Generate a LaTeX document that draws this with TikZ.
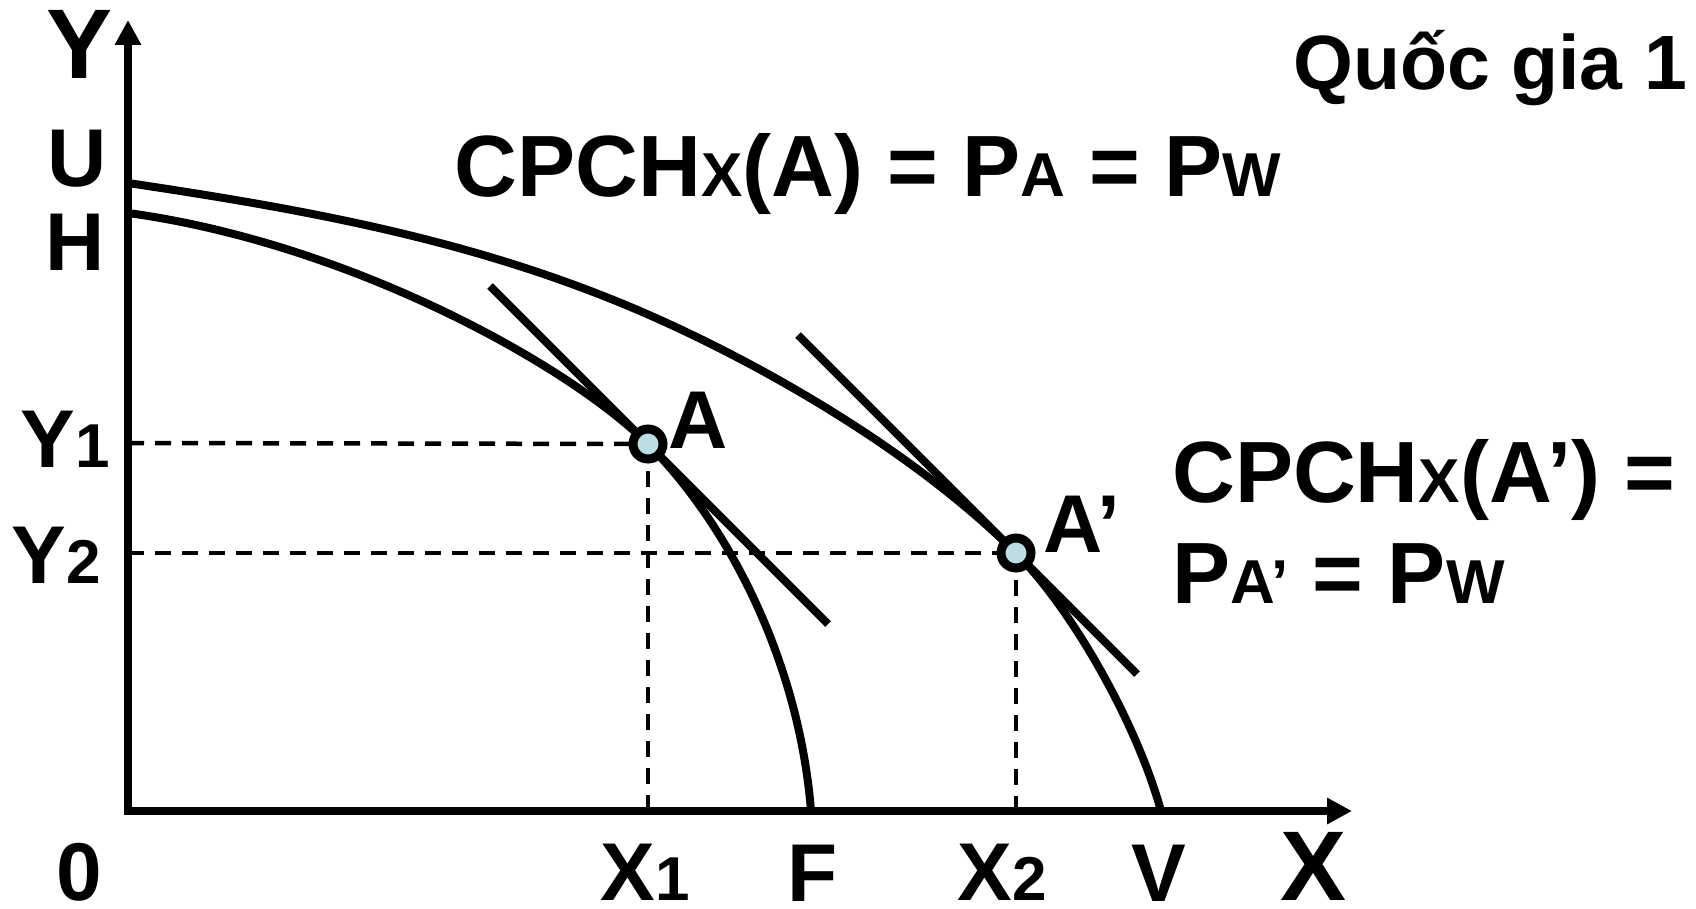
\documentclass[tikz,border=0pt]{standalone}
\usepackage{fontspec}
\setmainfont{Liberation Sans}
\usetikzlibrary{arrows.meta}
\definecolor{ptfill}{RGB}{186,222,227}
\newcommand{\subsz}[1]{{\fontsize{62}{62}\selectfont #1}}
\begin{document}
\begin{tikzpicture}[x=1pt,y=-1pt,
  curve/.style={line width=8pt},
  axisline/.style={line width=8pt, {Triangle[length=25pt,width=25pt]}-{Triangle[length=25pt,width=25pt]}},
  guide/.style={line width=4.5pt, dash pattern=on 16pt off 11pt},
  tangent/.style={line width=8pt},
  pt/.style={circle, draw, line width=9pt, fill=ptfill, minimum size=30pt, inner sep=0pt},
  lbl/.style={inner sep=0pt, anchor=base, font=\fontsize{82}{82}\selectfont\bfseries},
  biglbl/.style={inner sep=0pt, anchor=base, font=\fontsize{99}{99}\selectfont\bfseries},
  eqn/.style={inner sep=0pt, font=\fontsize{87}{87}\selectfont\bfseries}]
\useasboundingbox (0,0) rectangle (1696,909);
% key points
\coordinate (O) at (128,811);
\coordinate (Ytip) at (128,20);
\coordinate (Xtip) at (1352,811);
\coordinate (Hc) at (128,213);
\coordinate (Uc) at (128,183);
\coordinate (Fc) at (811,811);
\coordinate (Vc) at (1161,811);
\coordinate (M) at (640,311);
\coordinate (Y1c) at (128,443);
\coordinate (Y2c) at (128,553);
\coordinate (X1c) at (648,811);
\coordinate (X2c) at (1016,811);
\coordinate (T1a) at (490,286);
\coordinate (T1b) at (828,624);
\coordinate (T2a) at (798,335);
\coordinate (T2b) at (1137,674);
\coordinate (Ap) at (648,444);
\coordinate (Bp) at (1016,553);
% guides
\draw[guide] (Y1c) -- (Ap);
\draw[guide] (Ap) -- (X1c);
\draw[guide] (Y2c) -- (Bp);
\draw[guide] (Bp) -- (X2c);
% frontiers
\draw[curve] (Hc) .. controls (348,243) and (568,364) .. (Ap)
  .. controls (728,524) and (799,661) .. (Fc);
\draw[curve] (Uc) .. controls (298,208.5) and (470,238) .. (M)
  .. controls (765,365) and (916,453) .. (Bp)
  .. controls (1071,608) and (1136,721) .. (Vc);
% tangents
\draw[tangent] (T1a) -- (T1b);
\draw[tangent] (T2a) -- (T2b);
% axes
\draw[axisline] (Ytip) -- (O) -- (Xtip);
% points
\node[pt] (A) at (Ap) {};
\node[pt] (A2) at (Bp) {};
% labels
\node[biglbl] (lY) at (80,79) {Y};
\node[lbl] (lU) at (77,187) {U};
\node[lbl] (lH) at (75,270) {H};
\node[lbl] (lY1) at (65,467) {Y\subsz{1}};
\node[lbl] (lY2) at (56,583) {Y\subsz{2}};
\node[lbl] (l0) at (79,900) {0};
\node[lbl] (lX1) at (645,900) {X\subsz{1}};
\node[lbl] (lF) at (813,901) {F};
\node[lbl] (lX2) at (1002,900) {X\subsz{2}};
\node[lbl] (lV) at (1159,901) {V};
\node[biglbl] (lX) at (1313,900) {X};
\node[lbl] (lA) at (698,448) {A};
\node[lbl] (lA2) at (1082,552) {A’};
\node[eqn, anchor=base] (eq1) at (868,197) {CPCH\subsz{X}(A) = P\subsz{A} = P\subsz{W}};
\node[eqn, anchor=base west] (eq2) at (1172,502) {CPCH\subsz{X}(A’) =};
\node[eqn, anchor=base west] (eq3) at (1172,603) {P\subsz{A’} = P\subsz{W}};
\node[inner sep=0pt, anchor=base, font=\fontsize{77}{77}\selectfont\bfseries] (title) at (1490,90) {Quốc gia 1};
\end{tikzpicture}
\end{document}
